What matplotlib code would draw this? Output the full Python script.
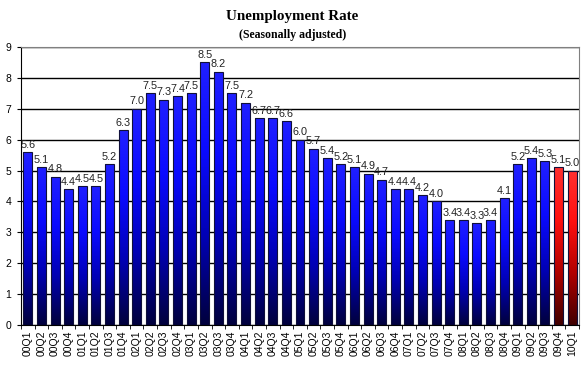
import matplotlib
matplotlib.use("Agg")
import matplotlib.pyplot as plt
import numpy as np
from matplotlib.colors import LinearSegmentedColormap

quarters = ["00Q1", "00Q2", "00Q3", "00Q4", "01Q1", "01Q2", "01Q3", "01Q4",
            "02Q1", "02Q2", "02Q3", "02Q4", "03Q1", "03Q2", "03Q3", "03Q4",
            "04Q1", "04Q2", "04Q3", "04Q4", "05Q1", "05Q2", "05Q3", "05Q4",
            "06Q1", "06Q2", "06Q3", "06Q4", "07Q1", "07Q2", "07Q3", "07Q4",
            "08Q1", "08Q2", "08Q3", "08Q4", "09Q1", "09Q2", "09Q3", "09Q4",
            "10Q1"]
rate = [5.6, 5.1, 4.8, 4.4, 4.5, 4.5, 5.2, 6.3,
        7.0, 7.5, 7.3, 7.4, 7.5, 8.5, 8.2, 7.5,
        7.2, 6.7, 6.7, 6.6, 6.0, 5.7, 5.4, 5.2,
        5.1, 4.9, 4.7, 4.4, 4.4, 4.2, 4.0, 3.4,
        3.4, 3.3, 3.4, 4.1, 5.2, 5.4, 5.3, 5.1,
        5.0]
# last two quarters drawn in red
highlight = ["09Q4", "10Q1"]

blue_cm = LinearSegmentedColormap.from_list("b", ["#00003c", "#0000b4", "#0a0aff", "#2020ff"])
red_cm = LinearSegmentedColormap.from_list("r", ["#400000", "#b00000", "#ff1010", "#ff3030"])

fig = plt.figure(figsize=(5.85, 3.66), dpi=100)
ax = fig.add_axes([21/585, 41/366, 558/585, 278/366])

x = np.arange(len(quarters))
bars = ax.bar(x, rate, width=0.66, color="none", edgecolor="#10103a", linewidth=0.8, zorder=3)
grad = np.linspace(0, 1, 256).reshape(-1, 1)
for b, q in zip(bars, quarters):
    cm = red_cm if q in highlight else blue_cm
    x0, y0 = b.get_x(), b.get_y()
    im = ax.imshow(grad, cmap=cm, origin="lower", aspect="auto",
                   extent=[x0, x0 + b.get_width(), y0, y0 + b.get_height()], zorder=2)
    im.set_clip_path(b)

for xi, v in zip(x, rate):
    ax.text(xi, v + 0.08, f"{v:.1f}", ha="center", va="bottom", fontsize=7.8,
            color="#222222", family="Liberation Sans", zorder=4)

ax.set_xlim(-0.5, len(quarters) - 0.5)
ax.set_ylim(0, 9)
ax.set_yticks(range(10))
ax.yaxis.grid(True, color="black", linewidth=1.0, zorder=0)
ax.set_axisbelow(True)
ax.tick_params(axis="y", length=3, labelsize=7.5, pad=4)
ax.set_xticks(x)
ax.set_xticklabels(quarters, rotation=90, fontsize=7.5)
ax.set_xticks(np.arange(-0.5, len(quarters)), minor=True)
ax.tick_params(axis="x", which="major", length=0, pad=4)
ax.tick_params(axis="x", which="minor", length=3)
for lab in ax.get_xticklabels() + ax.get_yticklabels():
    lab.set_family("Liberation Sans")
ax.spines["top"].set_color("#808080")
ax.spines["right"].set_color("#808080")
ax.spines["left"].set_color("black")
ax.spines["bottom"].set_color("black")

fig.text(0.5, 0.955, "Unemployment Rate", ha="center", va="center",
         fontsize=10.8, fontweight="bold", family="Liberation Serif")
fig.text(0.5, 0.905, "(Seasonally adjusted)", ha="center", va="center",
         fontsize=8.5, fontweight="bold", family="Liberation Serif")

fig.savefig("out.png", dpi=100)
